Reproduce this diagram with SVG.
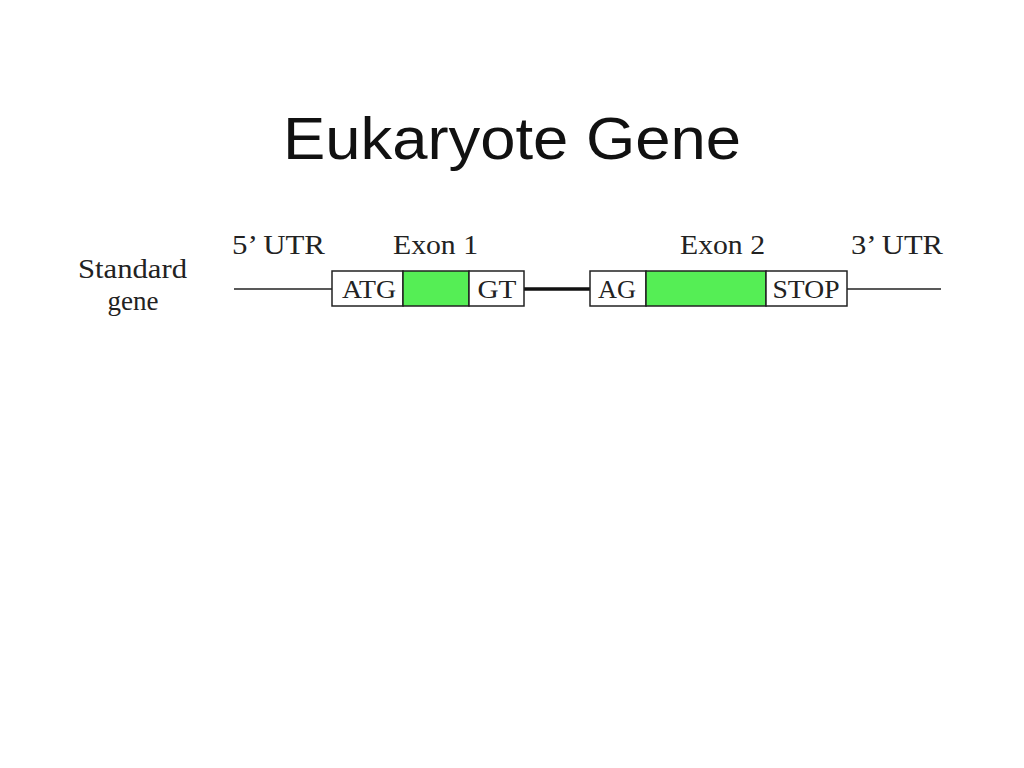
<svg xmlns="http://www.w3.org/2000/svg" width="1024" height="768" viewBox="0 0 1024 768">
<style>
.title{font-family:"Liberation Sans","DejaVu Sans",sans-serif;font-size:60px;fill:#111}
.lbl{font-family:"Liberation Serif","DejaVu Serif",serif;font-size:27px;fill:#222}
.cell{font-family:"Liberation Serif","DejaVu Serif",serif;font-size:26px;fill:#222;text-anchor:middle}
.box{fill:#fff;stroke:#222;stroke-width:1.5}
.ex{fill:#55ee55;stroke:#222;stroke-width:1.5}
</style>
<rect width="1024" height="768" fill="#fff"/>
<text class="title" x="512" y="159" text-anchor="middle" textLength="458" lengthAdjust="spacingAndGlyphs">Eukaryote Gene</text>
<g id="labels">
<text class="lbl" x="232" y="254" textLength="93" lengthAdjust="spacingAndGlyphs">5’ UTR</text>
<text class="lbl" x="393" y="254" textLength="85" lengthAdjust="spacingAndGlyphs">Exon 1</text>
<text class="lbl" x="680" y="254" textLength="85" lengthAdjust="spacingAndGlyphs">Exon 2</text>
<text class="lbl" x="851" y="254" textLength="92" lengthAdjust="spacingAndGlyphs">3’ UTR</text>
<text class="lbl" x="78" y="278" textLength="109" lengthAdjust="spacingAndGlyphs">Standard</text>
<text class="lbl" x="133" y="310" text-anchor="middle">gene</text>
</g>
<g id="connectors">
<line x1="234" y1="289" x2="332" y2="289" stroke="#222" stroke-width="1.5"/>
<line x1="524" y1="289" x2="590" y2="289" stroke="#111" stroke-width="3.5"/>
<line x1="847" y1="289" x2="941" y2="289" stroke="#222" stroke-width="1.5"/>
</g>
<g id="exon1">
<rect class="box" x="332" y="271" width="71" height="35"/>
<rect class="ex" x="403" y="271" width="66" height="35"/>
<rect class="box" x="469" y="271" width="55" height="35"/>
<text class="cell" x="369" y="298" textLength="54" lengthAdjust="spacingAndGlyphs">ATG</text>
<text class="cell" x="497" y="298" textLength="39" lengthAdjust="spacingAndGlyphs">GT</text>
</g>
<g id="exon2">
<rect class="box" x="590" y="271" width="56" height="35"/>
<rect class="ex" x="646" y="271" width="120" height="35"/>
<rect class="box" x="766" y="271" width="81" height="35"/>
<text class="cell" x="617" y="298" textLength="38" lengthAdjust="spacingAndGlyphs">AG</text>
<text class="cell" x="806" y="298" textLength="67" lengthAdjust="spacingAndGlyphs">STOP</text>
</g>
</svg>
